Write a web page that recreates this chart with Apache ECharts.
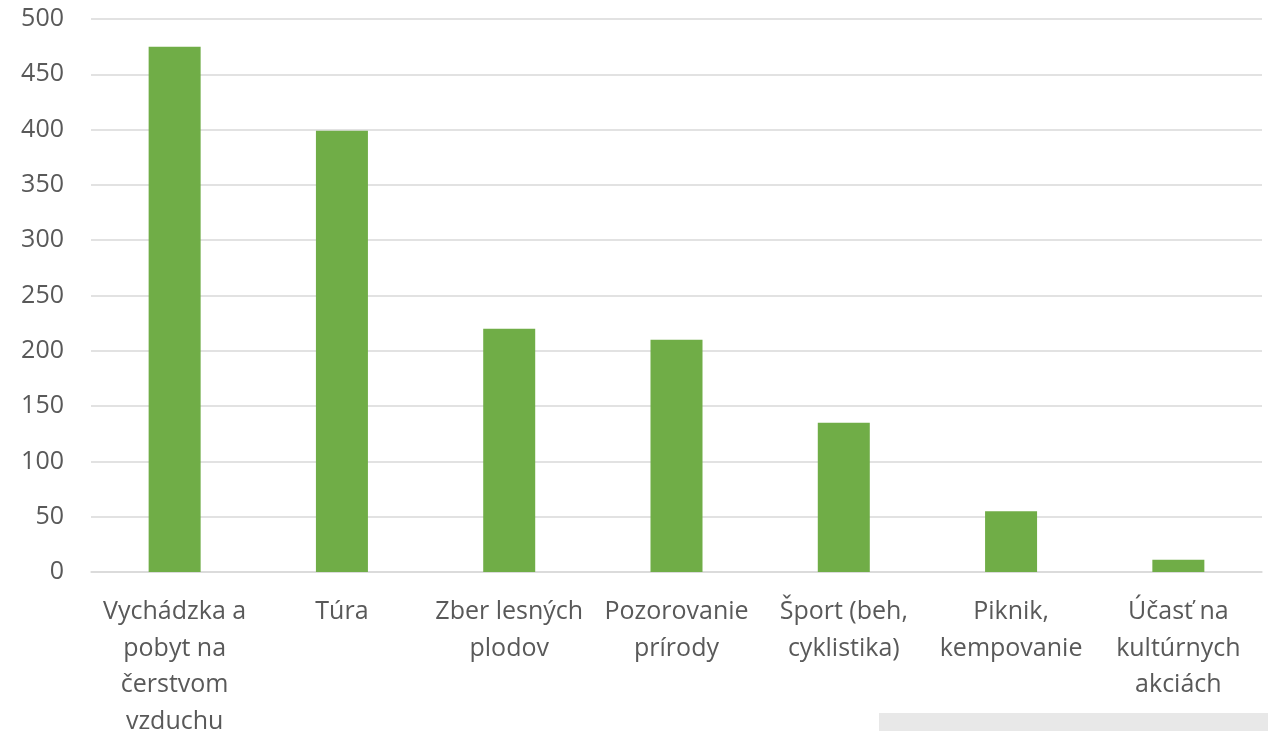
<!DOCTYPE html>
<html>
<head>
<meta charset="utf-8">
<script src="https://cdn.jsdelivr.net/npm/echarts@6/dist/echarts.min.js"></script>
<style>html,body{margin:0;padding:0;background:#fff;}#c{width:1268px;height:731px;}</style>
</head>
<body>
<div id="c"></div>
<script>
const categories = [
  "Vychádzka a\npobyt na\nčerstvom\nvzduchu",
  "Túra",
  "Zber lesných\nplodov",
  "Pozorovanie\nprírody",
  "Šport (beh,\ncyklistika)",
  "Piknik,\nkempovanie",
  "Účasť na\nkultúrnych\nakciách"
];
const values = [475, 399, 220, 210, 135, 55, 11];
const yMin = 0, yMax = 500, yStep = 50;

const chart = echarts.init(document.getElementById('c'));
chart.setOption({
  animation: false,
  grid: { left: 91, right: 6, top: 19, bottom: 159, containLabel: false, outerBoundsMode: 'none' },
  xAxis: {
    type: 'category',
    data: categories,
    axisLine: { show: true, lineStyle: { color: '#d9d9d9', width: 1.5 } },
    axisTick: { show: false },
    axisLabel: {
      interval: 0,
      color: '#595959',
      fontFamily: 'Open Sans',
      fontSize: 25,
      lineHeight: 36.5,
      margin: 22
    }
  },
  yAxis: {
    type: 'value',
    min: yMin, max: yMax, interval: yStep,
    axisLine: { show: false },
    axisTick: { show: false },
    splitLine: { lineStyle: { color: '#d9d9d9', width: 1.5 } },
    axisLabel: { color: '#595959', fontFamily: 'Open Sans', fontSize: 25, margin: 27 }
  },
  series: [{
    type: 'bar',
    data: values,
    barWidth: 52,
    itemStyle: { color: '#70ad47' }
  }],
  graphic: [{
    type: 'rect',
    shape: { x: 879, y: 713, width: 389, height: 18 },
    style: { fill: '#e8e8e8' },
    z: -1
  }]
});
</script>
</body>
</html>
